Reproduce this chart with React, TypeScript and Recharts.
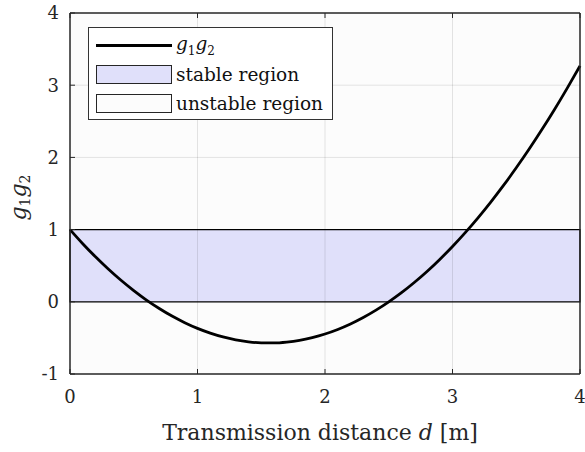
import React from "react";
import {
  ComposedChart,
  Line,
  ReferenceArea,
  ReferenceLine,
  XAxis,
  YAxis,
  Label
} from "recharts";

const distance = [
  0, 0.1, 0.2, 0.3, 0.4, 0.5, 0.6, 0.7, 0.8, 0.9, 1.0, 1.1, 1.2, 1.3, 1.4, 1.5, 1.6, 1.7, 1.8, 1.9, 2.0,
  2.1, 2.2, 2.3, 2.4, 2.5, 2.6, 2.7, 2.8, 2.9, 3.0, 3.1, 3.2, 3.3, 3.4, 3.5, 3.6, 3.7, 3.8, 3.9, 4.0
];
const g1g2 = [
  1.0, 0.805, 0.623, 0.454, 0.298, 0.155, 0.024, -0.093, -0.198, -0.289, -0.368, -0.434, -0.487, -0.527,
  -0.554, -0.568, -0.57, -0.558, -0.534, -0.496, -0.446, -0.383, -0.307, -0.218, -0.116, -0.001, 0.126,
  0.267, 0.42, 0.587, 0.766, 0.958, 1.163, 1.381, 1.612, 1.856, 2.112, 2.382, 2.664, 2.96, 3.267
];
const xTicks = [0, 1, 2, 3, 4];
const yTicks = [-1, 0, 1, 2, 3, 4];
const stableRange = [0, 1];

const data = distance.map((d, i) => ({ d, g: g1g2[i] }));

const font = "DejaVu Serif, serif";
const tickStyle = { fontSize: 18, fill: "#262626", fontFamily: font };
const gridColor = "rgba(0,0,0,0.1)";

function XLabel(props: any) {
  const vb = props.viewBox;
  return (
    <text
      x={vb.x + vb.width / 2 - 5}
      y={vb.y + 66}
      textAnchor="middle"
      fontSize={22}
      fill="#262626"
      style={{ fontFamily: font }}
    >
      Transmission distance <tspan fontStyle="italic">d</tspan> [m]
    </text>
  );
}

function YLabel(props: any) {
  const vb = props.viewBox;
  const cx = 26;
  const cy = vb.y + vb.height / 2 + 4;
  return (
    <text
      x={cx}
      y={cy}
      transform={`rotate(-90 ${cx} ${cy})`}
      textAnchor="middle"
      fontSize={22}
      fill="#262626"
      fontStyle="italic"
      style={{ fontFamily: font }}
    >
      g<tspan fontSize={14} dy={4} fontStyle="normal">1</tspan>
      <tspan dy={-4}>g</tspan>
      <tspan fontSize={14} dy={4} fontStyle="normal">2</tspan>
    </text>
  );
}

function LegendBox() {
  const row: React.CSSProperties = {
    display: "flex",
    alignItems: "center",
    height: 29,
    fontFamily: font,
    fontSize: 18.5,
    color: "#111"
  };
  const swatch = (fill: string): React.CSSProperties => ({
    width: 76,
    height: 19,
    boxSizing: "border-box",
    border: "1.5px solid #262626",
    background: fill,
    marginRight: 4
  });
  return (
    <div
      style={{
        position: "absolute",
        left: 88,
        top: 27,
        width: 245,
        height: 93,
        boxSizing: "border-box",
        border: "1px solid #333",
        background: "#fff",
        padding: "3px 0 0 7px"
      }}
    >
      <div style={row}>
        <div style={{ width: 76, height: 3, background: "#000", marginRight: 4 }} />
        <span style={{ fontStyle: "italic" }}>
          g<sub style={{ fontSize: 12, fontStyle: "normal" }}>1</sub>g
          <sub style={{ fontSize: 12, fontStyle: "normal" }}>2</sub>
        </span>
      </div>
      <div style={row}>
        <div style={swatch("#e0e0fa")} />
        <span>stable region</span>
      </div>
      <div style={row}>
        <div style={swatch("#fcfcfc")} />
        <span>unstable region</span>
      </div>
    </div>
  );
}

export default function App() {
  return (
    <div style={{ position: "absolute", left: 0, top: 0, width: 585, height: 452, background: "#fff", fontFamily: font }}>
      <ComposedChart width={585} height={452} data={data} margin={{ top: 12, right: 4, bottom: 8, left: 0 }}>
        <XAxis
          xAxisId="bottom"
          dataKey="d"
          type="number"
          domain={[0, 4]}
          ticks={xTicks}
          height={70}
          tickSize={-5}
          tickMargin={21}
          tick={tickStyle}
          axisLine={{ stroke: "#262626", strokeWidth: 1.5 }}
          tickLine={{ stroke: "#262626" }}
        >
          <Label content={<XLabel />} />
        </XAxis>
        <XAxis
          xAxisId="top"
          orientation="top"
          dataKey="d"
          type="number"
          domain={[0, 4]}
          ticks={xTicks}
          height={1}
          tickSize={-5}
          tickFormatter={() => ""}
          axisLine={{ stroke: "#262626", strokeWidth: 1.5 }}
          tickLine={{ stroke: "#262626" }}
        />
        <YAxis
          yAxisId="left"
          type="number"
          domain={[-1, 4]}
          ticks={yTicks}
          width={70}
          tickSize={-5}
          tickMargin={16}
          tick={tickStyle}
          axisLine={{ stroke: "#262626", strokeWidth: 1.5 }}
          tickLine={{ stroke: "#262626" }}
        >
          <Label content={<YLabel />} />
        </YAxis>
        <YAxis
          yAxisId="right"
          orientation="right"
          type="number"
          domain={[-1, 4]}
          ticks={yTicks}
          width={1}
          tickSize={-5}
          tickFormatter={() => ""}
          axisLine={{ stroke: "#262626", strokeWidth: 1.5 }}
          tickLine={{ stroke: "#262626" }}
        />
        <ReferenceArea xAxisId="bottom" yAxisId="left" y1={-1} y2={4} fill="#fcfcfc" fillOpacity={1} />
        <ReferenceArea
          xAxisId="bottom"
          yAxisId="left"
          y1={stableRange[0]}
          y2={stableRange[1]}
          fill="#e0e0fa"
          fillOpacity={1}
          stroke="#000"
          strokeWidth={1.2}
        />
        {xTicks.slice(1, -1).map((t) => (
          <ReferenceLine key={"x" + t} xAxisId="bottom" yAxisId="left" x={t} stroke={gridColor} />
        ))}
        {yTicks.slice(1, -1)
          .filter((t) => !stableRange.includes(t))
          .map((t) => (
            <ReferenceLine key={"y" + t} xAxisId="bottom" yAxisId="left" y={t} stroke={gridColor} />
          ))}
        <Line
          xAxisId="bottom"
          yAxisId="left"
          dataKey="g"
          type="monotone"
          stroke="#000"
          strokeWidth={2.8}
          dot={false}
          isAnimationActive={false}
        />
      </ComposedChart>
      <LegendBox />
    </div>
  );
}
